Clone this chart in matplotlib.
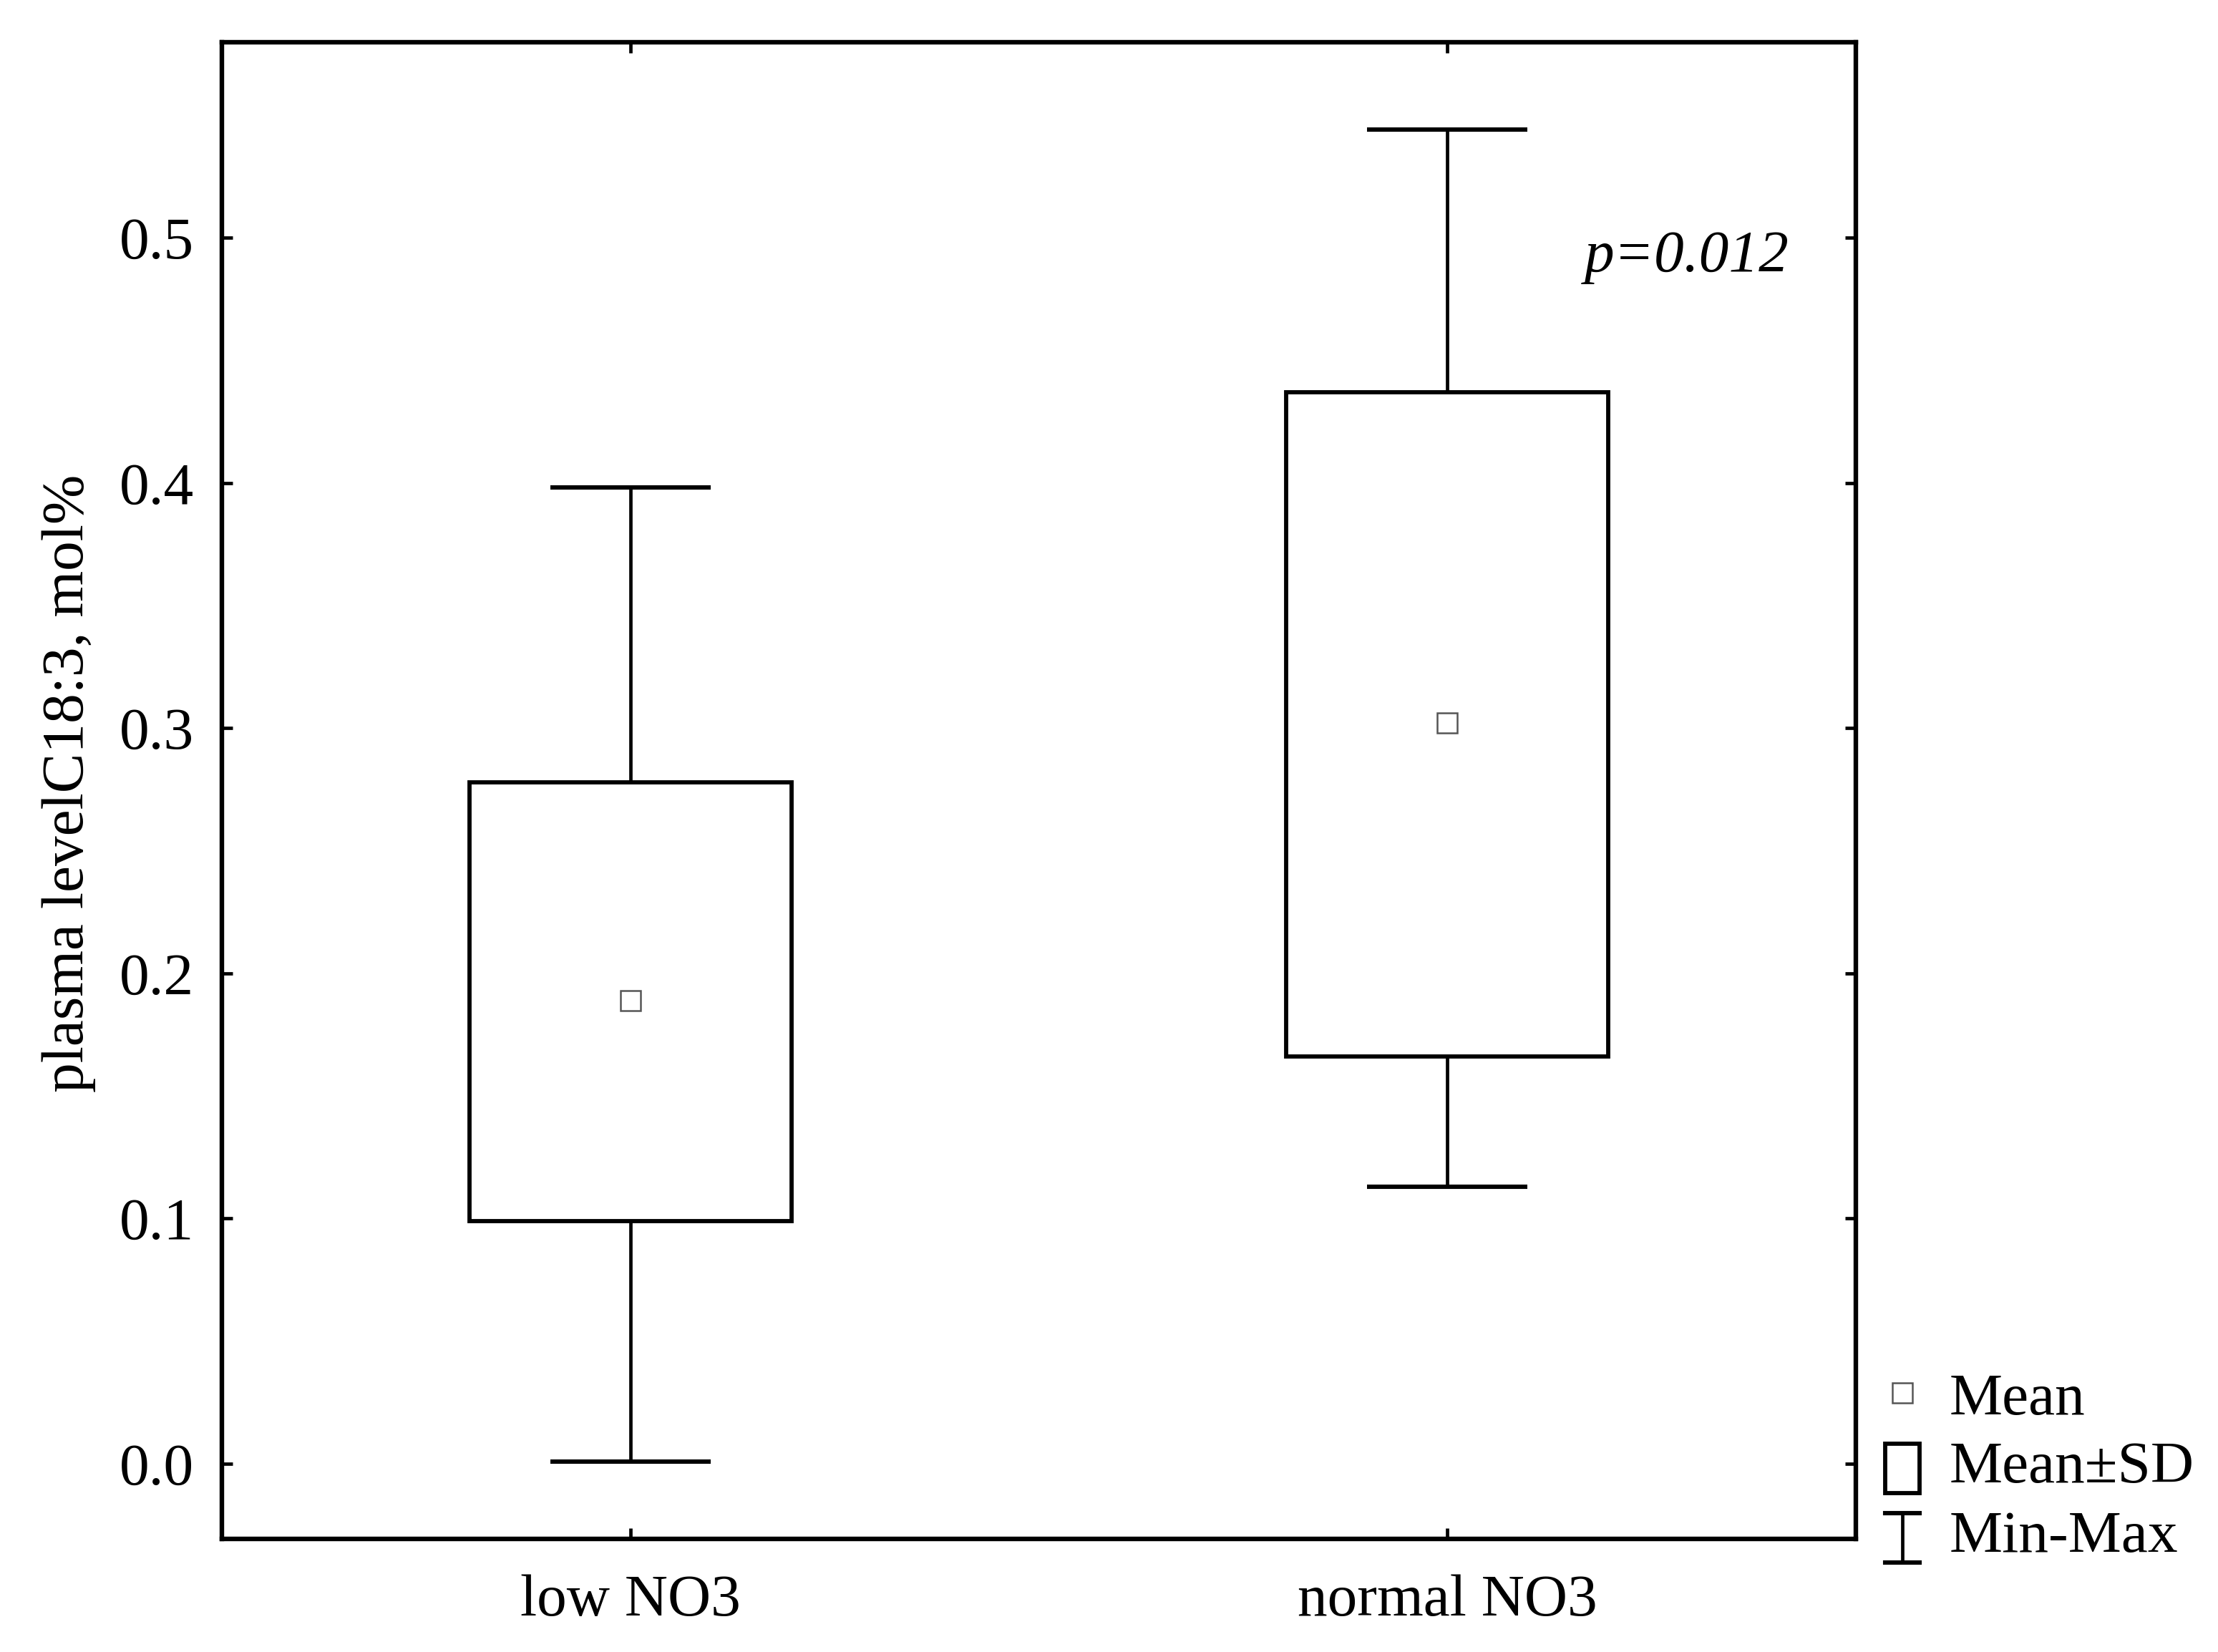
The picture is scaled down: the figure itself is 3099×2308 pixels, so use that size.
import matplotlib
matplotlib.use("Agg")
import matplotlib.pyplot as plt
from matplotlib.patches import Rectangle
from matplotlib.lines import Line2D

# Data
groups = ["low NO3", "normal NO3"]
means = [0.189, 0.302]
sd_low = [0.099, 0.166]
sd_high = [0.278, 0.437]
mins = [0.001, 0.113]
maxs = [0.398, 0.544]
p_label = "p=0.012"

plt.rcParams['font.family'] = ['Liberation Serif', 'DejaVu Serif']
FS = 60

fig = plt.figure(figsize=(30.99, 23.08), dpi=100)
ax = fig.add_axes([0.1001, 0.0685, 0.7366, 0.9058])

box_w = 0.394
cap_w = 0.196
xs = list(range(len(groups)))

for x, m, lo, hi, mn, mx in zip(xs, means, sd_low, sd_high, mins, maxs):
    ax.add_patch(Rectangle((x - box_w / 2, lo), box_w, hi - lo,
                           facecolor='white', edgecolor='black', lw=4.2, zorder=2))
    ax.vlines(x, hi, mx, color='black', lw=3.4, zorder=1)
    ax.vlines(x, mn, lo, color='black', lw=3.4, zorder=1)
    ax.hlines([mn, mx], x - cap_w / 2, x + cap_w / 2, color='black', lw=4.4, zorder=2)
    ax.plot(x, m, marker='s', ms=20, mfc='white', mec='#555555', mew=1.8, zorder=3)

ax.set_xlim(-0.5, 1.5)
ax.set_ylim(-0.0306, 0.5796)
ax.set_xticks(xs)
ax.set_xticklabels(groups)
ax.set_yticks([0.0, 0.1, 0.2, 0.3, 0.4, 0.5])
ax.set_yticklabels(["0.0", "0.1", "0.2", "0.3", "0.4", "0.5"])
ax.tick_params(axis='both', direction='in', length=11, width=3.4,
               labelsize=FS, top=True, right=True)
ax.tick_params(axis='y', pad=28)
ax.tick_params(axis='x', pad=36)
for s in ax.spines.values():
    s.set_linewidth(4.6)

ax.text(1.168, 0.492, p_label, fontsize=FS, style='italic', ha='left', va='center')

fig.text(0.031, 0.526, "plasma levelC18:3, mol%", rotation=90, fontsize=FS,
         ha='center', va='center')

# legend drawn in a small figure-level axes
lg = fig.add_axes([0.845, 0.04, 0.155, 0.15])
lg.set_xlim(0, 1)
lg.set_ylim(0, 1)
lg.axis('off')
rows = [0.749, 0.474, 0.194]
mx0 = 0.082
lg.plot(mx0, rows[0] + 0.03, marker='s', ms=20, mfc='white', mec='#555555', mew=1.8)
lg.add_patch(Rectangle((mx0 - 0.05, rows[1] - 0.10), 0.10, 0.20,
                       facecolor='white', edgecolor='black', lw=4.2))
lg.add_line(Line2D([mx0, mx0], [rows[2] - 0.10, rows[2] + 0.10], color='black', lw=3.4))
lg.add_line(Line2D([mx0 - 0.05, mx0 + 0.05], [rows[2] + 0.10] * 2, color='black', lw=4.4))
lg.add_line(Line2D([mx0 - 0.05, mx0 + 0.05], [rows[2] - 0.10] * 2, color='black', lw=4.4))
for r, t in zip(rows, ["Mean", "Mean\u00b1SD", "Min-Max"]):
    lg.text(0.218, r, t, fontsize=FS, ha='left', va='center')

fig.savefig("out.png", dpi=100, facecolor='white')
